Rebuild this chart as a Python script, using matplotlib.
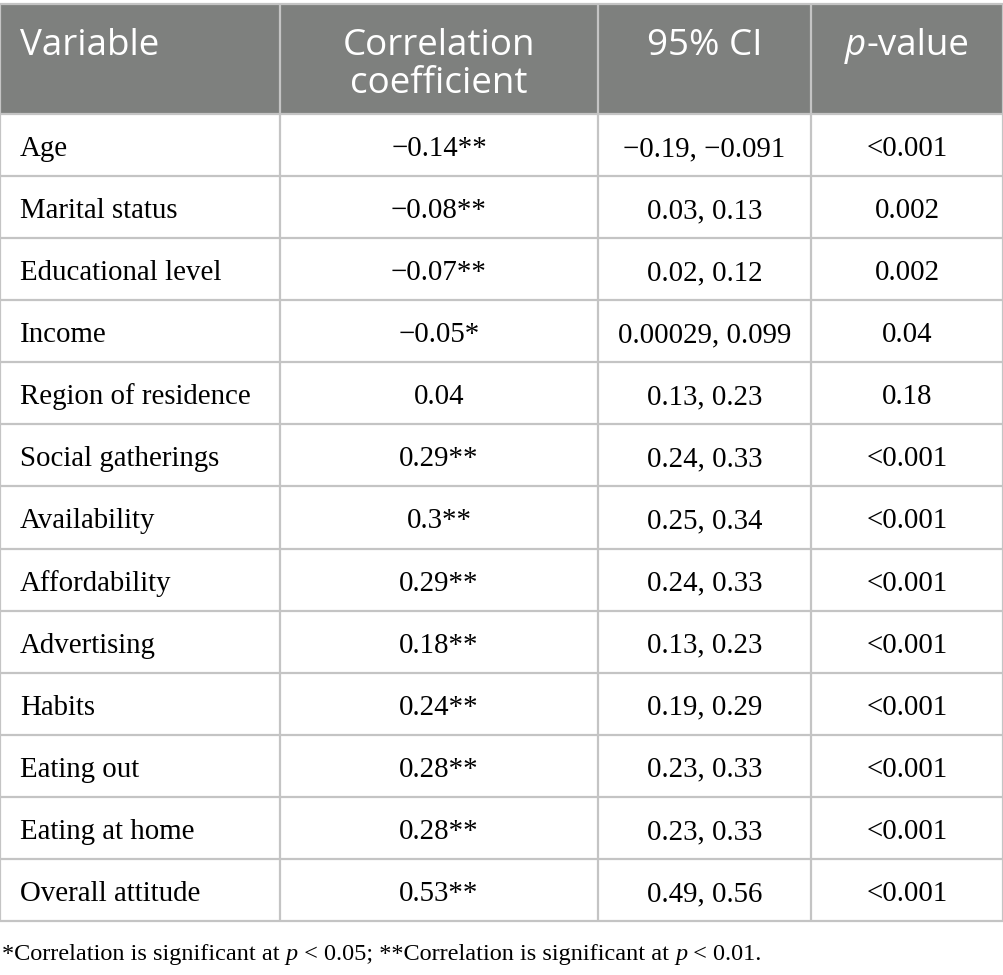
import matplotlib
matplotlib.use("Agg")
import matplotlib.pyplot as plt
from matplotlib.patches import Rectangle

# table content
variables = ["Age", "Marital status", "Educational level", "Income",
             "Region of residence", "Social gatherings", "Availability",
             "Affordability", "Advertising", "Habits", "Eating out",
             "Eating at home", "Overall attitude"]
corr = ["\u22120.14**", "\u22120.08**", "\u22120.07**", "\u22120.05*", "0.04",
        "0.29**", "0.3**", "0.29**", "0.18**", "0.24**", "0.28**", "0.28**",
        "0.53**"]
ci = ["\u22120.19, \u22120.091", "0.03, 0.13", "0.02, 0.12", "0.00029, 0.099",
      "0.13, 0.23", "0.24, 0.33", "0.25, 0.34", "0.24, 0.33", "0.13, 0.23",
      "0.19, 0.29", "0.23, 0.33", "0.23, 0.33", "0.49, 0.56"]
pval = ["<0.001", "0.002", "0.002", "0.04", "0.18", "<0.001", "<0.001",
        "<0.001", "<0.001", "<0.001", "<0.001", "<0.001", "<0.001"]
footnote = [("*Correlation is significant at ", "normal"), ("p", "italic"),
            (" < 0.05; **Correlation is significant at ", "normal"),
            ("p", "italic"), (" < 0.01.", "normal")]

W, H = 1004, 975
col_edges = [0, 280, 598, 811, 1003]
top, head_bot, bottom = 4, 114, 921
header_gray = "#7e807e"
line_col = "#c4c4c4"
serif = "Liberation Serif"
sans = "Open Sans"

fig = plt.figure(figsize=(W / 100, H / 100), dpi=100)
ax = fig.add_axes([0, 0, 1, 1])
ax.set_xlim(0, W)
ax.set_ylim(H, 0)
ax.axis("off")

# header background
ax.add_patch(Rectangle((0, top), W, head_bot - top, facecolor=header_gray,
                       edgecolor="none"))

n = len(variables)
row_h = (bottom - head_bot) / n

# grid lines
for x in col_edges:
    ax.plot([x, x], [top, bottom], color=line_col, lw=1.6,
            solid_capstyle="butt")
for i in range(n + 1):
    y = head_bot + i * row_h
    ax.plot([0, W], [y, y], color=line_col, lw=1.6, solid_capstyle="butt")
ax.plot([0, W], [top, top], color=line_col, lw=1.6)

renderer = fig.canvas.get_renderer()


def rich_text(x, y, parts, ha, size, family, color="black"):
    # draw consecutive segments with mixed styles
    objs = []
    for s, style in parts:
        t = ax.text(0, y, s, fontsize=size, family=family, style=style,
                    color=color, va="baseline", ha="left")
        objs.append(t)
    widths = [t.get_window_extent(renderer).width for t in objs]
    total = sum(widths)
    x0 = x - total / 2 if ha == "center" else x
    for t, w in zip(objs, widths):
        t.set_x(x0)
        x0 += w


centers = [(col_edges[i] + col_edges[i + 1]) / 2 for i in range(4)]

# header texts
hs = 26.5
ax.text(20, 55, "Variable", fontsize=hs, family=sans, color="white",
        va="baseline", ha="left")
ax.text(centers[1], 55, "Correlation", fontsize=hs, family=sans,
        color="white", va="baseline", ha="center")
ax.text(centers[1], 93, "coefficient", fontsize=hs, family=sans,
        color="white", va="baseline", ha="center")
ax.text(centers[2], 55, "95% CI", fontsize=hs, family=sans, color="white",
        va="baseline", ha="center")
rich_text(centers[3], 55, [("p", "italic"), ("-value", "normal")], "center",
          hs, sans, "white")

# body rows
bs = 20.8
for i in range(n):
    yb = head_bot + (i + 0.5) * row_h + 11
    ax.text(20, yb, variables[i], fontsize=bs, family=serif, va="baseline",
            ha="left")
    ax.text(centers[1], yb, corr[i], fontsize=bs, family=serif,
            va="baseline", ha="center")
    ax.text(centers[2], yb, ci[i], fontsize=bs, family=serif, va="baseline",
            ha="center")
    ax.text(centers[3], yb, pval[i], fontsize=bs, family=serif,
            va="baseline", ha="center")

rich_text(2, 960, footnote, "left", 17.5, serif)

fig.savefig("out.png", dpi=100)
